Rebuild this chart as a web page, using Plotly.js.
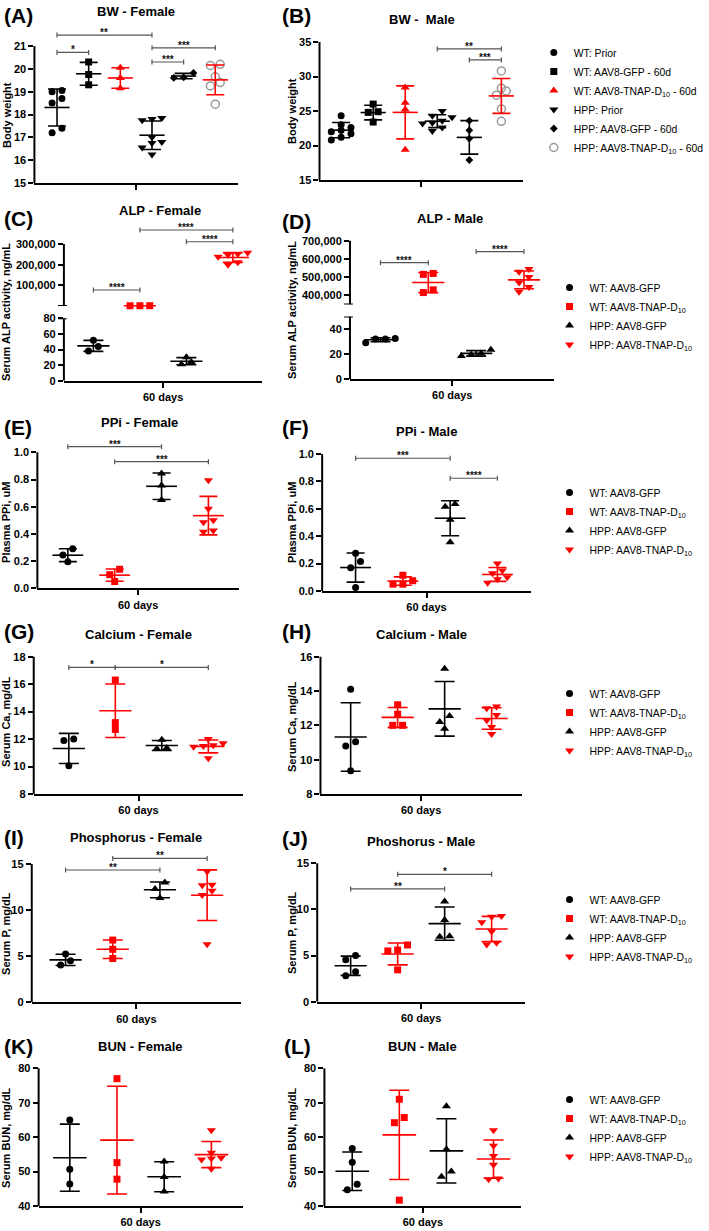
<!DOCTYPE html>
<html><head><meta charset="utf-8">
<script src="https://cdn.plot.ly/plotly-3.0.1.min.js"></script>
<style>html,body{margin:0;padding:0;background:#fff}#chart{width:709px;height:1231px}</style>
</head><body><div id="chart"></div>
<script>
// ---------------- DATA ----------------
const bwGroups = ['WT: Prior','WT: AAV8-GFP - 60d','WT: AAV8-TNAP-D<sub>10</sub> - 60d','HPP: Prior','HPP: AAV8-GFP - 60d','HPP: AAV8-TNAP-D<sub>10</sub> - 60d'];
const dayGroups = ['WT: AAV8-GFP','WT: AAV8-TNAP-D<sub>10</sub>','HPP: AAV8-GFP','HPP: AAV8-TNAP-D<sub>10</sub>'];

const bwFemale = [[19.0,19.05,18.5,18.7,17.2,17.4],[20.3,19.3,19.75],[20.05,19.6,19.15],[17.85,17.8,17.75,17.0,16.8,16.75,16.55,16.25],[19.82,19.63,19.6],[20.15,20.2,19.4,19.65,19.25,18.45]];
const bwMale = [[24.3,23.0,22.6,22.2,22.0,21.7,21.2,20.8],[26.0,24.8,24.9,23.4],[28.4,26.2,25.2,19.4],[25.0,24.3,24.1,23.6,23.3,23.2,22.6,22.1],[23.6,22.2,21.0,17.9],[30.8,28.3,27.9,27.3,25.3,23.5]];
const alpFemale = [[52,44,38],[1200,1500,1300],[30,21,24],[258000,252000,248000,238000,212000,200000]];
const alpMale = [[29,32,32,32.5],[520000,515000,415000,430000],[18.5,20.5,23.5,19.5],[545000,530000,500000,470000,445000,420000]];
const ppiFemale = [[0.29,0.245,0.195],[0.14,0.10,0.05],[0.845,0.755,0.65],[0.795,0.585,0.485,0.5,0.415,0.425]];
const ppiMale = [[0.275,0.215,0.17,0.025],[0.115,0.075,0.05,0.05],[0.615,0.635,0.52,0.355],[0.2,0.15,0.13,0.1,0.085,0.06]];
const caFemale = [[12.0,11.9,10.05],[16.3,13.2,12.7],[11.95,11.3,11.35],[12.0,11.7,11.55,11.5,11.45,10.6]];
const caMale = [[14.1,11.05,10.8,9.35],[13.2,12.65,12.0,12.0],[15.3,12.55,12.2,11.8],[13.1,13.0,12.6,12.3,11.9,11.5]];
const pFemale = [[5.25,4.5,4.05],[6.75,5.75,4.75],[13.0,12.3,11.3],[14.2,12.75,12.7,12.1,11.65,6.3]];
const pMale = [[5.0,4.55,3.25,2.8],[6.15,5.6,5.5,3.45],[10.85,8.85,7.05,7.1],[9.3,9.2,8.6,7.6,6.4,6.2]];
const bunFemale = [[65.0,50.7,46.4],[77.0,52.6,47.8],[52.9,48.4,44.2],[62.0,55.5,54.0,53.8,53.5,50.8]];
const bunMale = [[56.7,52.7,46.3,44.7],[71.0,65.7,64.2,41.7],[69.0,56.5,50.0,48.5],[62.0,57.5,54.5,52.0,48.0,47.8]];

// significance brackets: [from group, to group, level, label]
const bwFemaleSig = [[1,4,21.48,'**'],[1,2,20.72,'*'],[4,6,20.92,'***'],[4,5,20.3,'***']];
const bwMaleSig = [[4,6,33.99,'**'],[5,6,32.4,'***']];
const alpFemaleSig = [[1,2,77400,'****'],[2,4,367700,'****'],[3,4,311000,'****']];
const alpMaleSig = [[1,2,579000,'****'],[3,4,640000,'****']];
const ppiFemaleSig = [[1,3,1.041,'***'],[2,4,0.931,'***']];
const ppiMaleSig = [[1,3,0.969,'***'],[3,4,0.823,'****']];
const caFemaleSig = [[1,2,17.22,'*'],[2,4,17.22,'*']];
const pFemaleSig = [[1,3,14.35,'**'],[2,4,15.6,'**']];
const pMaleSig = [[1,3,12.22,'**'],[2,4,13.8,'*']];

// tick values
const bwFemaleTicks = [15,16,17,18,19,20,21];
const bwMaleTicks = [15,20,25,30,35];
const alpFemaleTicksHi = [100000,200000,300000];
const alpFemaleTicksLo = [0,20,40,60,80];
const alpMaleTicksHi = [400000,500000,600000,700000];
const alpMaleTicksLo = [0,20,40];
const ppiTicks = [0,0.2,0.4,0.6,0.8,1.0];
const caFemaleTicks = [8,10,12,14,16,18];
const caMaleTicks = [8,10,12,14,16];
const pTicks = [0,5,10,15];
const bunTicks = [40,50,60,70,80];

// ---------------- STYLE / LAYOUT ----------------
const W = 709, H = 1231;
const BLACK = '#000000', RED = '#ff0000', GRAY = '#9a9a9a', BR = '#555555';
const FONT = '"Liberation Sans", Arial, Helvetica, sans-serif';

const bwStyles = [
  {symbol:'circle', color:BLACK, size:7, err:BLACK},
  {symbol:'square', color:BLACK, size:7, err:BLACK},
  {symbol:'triangle-up', color:RED, size:8, err:RED},
  {symbol:'triangle-down', color:BLACK, size:8, err:BLACK},
  {symbol:'diamond', color:BLACK, size:6, err:BLACK},
  {symbol:'circle-open', color:GRAY, size:8, err:RED, lw:1.5}
];
const dayStyles = [
  {symbol:'circle', color:BLACK, size:7, err:BLACK},
  {symbol:'square', color:RED, size:7, err:RED},
  {symbol:'triangle-up', color:BLACK, size:8, err:BLACK},
  {symbol:'triangle-down', color:RED, size:8, err:RED}
];

const panels = [
 {letter:'(A)', title:'BW - Female', data:bwFemale, names:bwGroups, styles:bwStyles, sig:bwFemaleSig, legend:null, xlab:'',
  X:{start:35,g1:58,sp:32.2}, mean:{size:18,cap:9},
  parts:[{bottom:183,top:46,domTop:28,min:15,max:21,ticks:bwFemaleTicks,groups:[0,1,2,3,4,5]}],
  L:[2,16], T:[138,11], Y:['Body weight',7,115]},
 {letter:'(B)', title:'BW -  Male', data:bwMale, names:bwGroups, styles:bwStyles, sig:bwMaleSig, legend:'legend', xlab:'',
  X:{start:325,g1:347,sp:32.6}, mean:{size:18,cap:9},
  parts:[{bottom:180,top:42,domTop:38,min:15,max:35,ticks:bwMaleTicks,groups:[0,1,2,3,4,5]}],
  L:[285,16], T:[429,19.5], Y:['Body weight',297,111]},
 {letter:'(C)', title:'ALP - Female', data:alpFemale, names:dayGroups, styles:dayStyles, sig:alpFemaleSig, legend:null, xlab:'60 days',
  X:{start:65,g1:95,sp:47.3}, mean:{size:23,cap:10}, broken:true,
  parts:[{bottom:306,top:244,domTop:226,min:0,max:300000,ticks:alpFemaleTicksHi,fmt:',',groups:[1,3]},
         {bottom:380.7,top:318.3,domTop:318.3,min:0,max:80,ticks:alpFemaleTicksLo,groups:[0,2]}],
  L:[2,219], T:[163,210], Y:['Serum ALP activity, ng/mL',6,312]},
 {letter:'(D)', title:'ALP - Male', data:alpMale, names:dayGroups, styles:dayStyles, sig:alpMaleSig, legend:'legend2', xlab:'60 days',
  X:{start:356,g1:387,sp:48.67}, mean:{size:23,cap:10}, broken:true,
  parts:[{bottom:304.4,top:240.7,domTop:238,min:350000,max:700000,ticks:alpMaleTicksHi,fmt:',',groups:[1,3]},
         {bottom:379,top:316.5,domTop:316.5,min:0,max:50,ticks:alpMaleTicksLo,groups:[0,2]}],
  L:[285,221], T:[458,219], Y:['Serum ALP activity, ng/mL',297,310]},
 {letter:'(E)', title:'PPi - Female', data:ppiFemale, names:dayGroups, styles:dayStyles, sig:ppiFemaleSig, legend:null, xlab:'60 days',
  X:{start:38,g1:69,sp:47.67}, mean:{size:22,cap:9},
  parts:[{bottom:588.3,top:452.3,domTop:440,min:0,max:1,ticks:ppiTicks,fmt:'.1f',groups:[0,1,2,3]}],
  L:[2,427], T:[142,422], Y:['Plasma PPi, uM',6,522]},
 {letter:'(F)', title:'PPi - Male', data:ppiMale, names:dayGroups, styles:dayStyles, sig:ppiMaleSig, legend:'legend3', xlab:'60 days',
  X:{start:327.7,g1:361.7,sp:48.1}, mean:{size:22,cap:9},
  parts:[{bottom:591,top:454,domTop:450,min:0,max:1,ticks:ppiTicks,fmt:'.1f',groups:[0,1,2,3]}],
  L:[285,428], T:[434,432], Y:['Plasma PPi, uM',297,522]},
 {letter:'(G)', title:'Calcium - Female', data:caFemale, names:dayGroups, styles:dayStyles, sig:caFemaleSig, legend:null, xlab:'60 days',
  X:{start:34.3,g1:70,sp:47.3}, mean:{size:23,cap:10},
  parts:[{bottom:794,top:656.7,domTop:652,min:8,max:18,ticks:caFemaleTicks,groups:[0,1,2,3]}],
  L:[2,631], T:[141,634], Y:['Serum Ca, mg/dL',6,721]},
 {letter:'(H)', title:'Calcium - Male', data:caMale, names:dayGroups, styles:dayStyles, sig:[], legend:'legend4', xlab:'60 days',
  X:{start:326,g1:356.7,sp:47.8}, mean:{size:23,cap:10},
  parts:[{bottom:794,top:656.7,domTop:652,min:8,max:16,ticks:caMaleTicks,groups:[0,1,2,3]}],
  L:[285,631], T:[429,634], Y:['Serum Ca, mg/dL',297,726]},
 {letter:'(I)', title:'Phosphorus - Female', data:pFemale, names:dayGroups, styles:dayStyles, sig:pFemaleSig, legend:null, xlab:'60 days',
  X:{start:32.3,g1:66.7,sp:48}, mean:{size:23,cap:10},
  parts:[{bottom:1002.3,top:864,domTop:850,min:0,max:15,ticks:pTicks,groups:[0,1,2,3]}],
  L:[2,837], T:[138,837], Y:['Serum P, mg/dL',6,933]},
 {letter:'(J)', title:'Phoshorus - Male', data:pMale, names:dayGroups, styles:dayStyles, sig:pMaleSig, legend:'legend5', xlab:'60 days',
  X:{start:322.7,g1:356.7,sp:47.8}, mean:{size:23,cap:10},
  parts:[{bottom:1001.7,top:863.3,domTop:858,min:0,max:15,ticks:pTicks,groups:[0,1,2,3]}],
  L:[285,839], T:[428,841], Y:['Serum P, mg/dL',297,932]},
 {letter:'(K)', title:'BUN - Female', data:bunFemale, names:dayGroups, styles:dayStyles, sig:[], legend:null, xlab:'60 days',
  X:{start:39.3,g1:71,sp:48}, mean:{size:24,cap:10},
  parts:[{bottom:1206,top:1068.3,domTop:1064,min:40,max:80,ticks:bunTicks,groups:[0,1,2,3]}],
  L:[2,1046], T:[143,1046], Y:['Serum BUN, mg/dL',6,1137]},
 {letter:'(L)', title:'BUN - Male', data:bunMale, names:dayGroups, styles:dayStyles, sig:[], legend:'legend6', xlab:'60 days',
  X:{start:330,g1:358.3,sp:47.9}, mean:{size:24,cap:10},
  parts:[{bottom:1206,top:1068.3,domTop:1064,min:40,max:80,ticks:bunTicks,groups:[0,1,2,3]}],
  L:[287,1046], T:[430,1046], Y:['Serum BUN, mg/dL',297,1137]}
];

// legend placement: [text left px, first row centre px]
const legendPos = {legend:[570,51], legend2:[586,286], legend3:[586,491], legend4:[586,692], legend5:[586,898], legend6:[586,1098]};

// ---------------- BUILD ----------------
function mean(a){return a.reduce((s,v)=>s+v,0)/a.length;}
function sdev(a){const m=mean(a);return Math.sqrt(a.reduce((s,v)=>s+(v-m)*(v-m),0)/(a.length-1));}
// GraphPad-like horizontal spreading of points whose values are close
function swarm(vals, ppuY, ppuX){
  const idx = vals.map((v,i)=>i).sort((a,b)=>vals[a]-vals[b]);
  const off = new Array(vals.length).fill(0);
  const TH = 6.5, SEP = 10;
  let cl = [], start = null;
  const flush = ()=>{const n=cl.length; cl.forEach((i,k)=>{off[i]=(k-(n-1)/2)*SEP/ppuX;}); cl=[];};
  idx.forEach(i=>{
    if(cl.length && (vals[i]-start)*ppuY > TH) flush();
    if(!cl.length) start = vals[i];
    cl.push(i);
  });
  flush();
  return off;
}

const traces = [], errTraces = [], shapes = [], annotations = [];
const layout = {width:W, height:H, margin:{l:0,r:0,t:0,b:0}, paper_bgcolor:'#ffffff', plot_bgcolor:'rgba(0,0,0,0)',
  font:{family:FONT, color:BLACK}, showlegend:true, hovermode:false};
let axN = 0;
const axName = (n,t)=> n===1 ? t : t+n;
const axKey = (n,t)=> n===1 ? t+'axis' : t+'axis'+n;
const tfont = {family:FONT, size:11, color:BLACK, weight:'bold'};

panels.forEach(p=>{
  const n = p.names.length;
  const r0 = 1 - (p.X.g1 - p.X.start)/p.X.sp;
  const c = (n+1)/2;
  const r1 = 2*c - r0;
  const endPx = p.X.start + (r1-r0)*p.X.sp;
  const axes = [];
  p.parts.forEach((pt,pi)=>{
    axN++;
    const xa = axName(axN,'x'), ya = axName(axN,'y');
    const ppu = (pt.bottom-pt.top)/(pt.max-pt.min);
    const rTop = pt.min + (pt.bottom-pt.domTop)/ppu;
    const last = pi === p.parts.length-1;
    layout[axKey(axN,'x')] = {domain:[p.X.start/W, endPx/W], range:[r0,r1], anchor:ya, visible:last,
      showline:true, linewidth:2, linecolor:BLACK, ticks:'outside', ticklen:5, tickwidth:2, tickcolor:BLACK,
      tickmode:'array', tickvals:[c], ticktext:[p.xlab], tickfont:tfont, showgrid:false, zeroline:false, fixedrange:true};
    layout[axKey(axN,'y')] = {domain:[1-pt.bottom/H, 1-pt.domTop/H], range:[pt.min, rTop], anchor:xa,
      showline:false, ticks:'outside', ticklen:5, tickwidth:2, tickcolor:BLACK, tickmode:'array', tickvals:pt.ticks,
      tickformat:pt.fmt||'', tickfont:tfont, showgrid:false, zeroline:false, fixedrange:true};
    shapes.push({type:'line', xref:'paper', yref:ya, x0:p.X.start/W, x1:p.X.start/W, y0:pt.min, y1:pt.max, line:{color:BLACK,width:2}});
    axes.push({xa, ya, ppu, pt});
  });
  if(p.broken){
    const up = axes[0], lo = axes[1];
    [[up.ya, up.pt.min],[lo.ya, lo.pt.max]].forEach(([ya,v])=>{
      shapes.push({type:'line', xref:'paper', yref:ya, x0:(p.X.start-6)/W, x1:(p.X.start+3)/W, y0:v, y1:v, line:{color:BLACK,width:2}});
    });
  }
  // points (legend order = group order)
  for(let g=0; g<n; g++){
    const ax = axes.find(a=>a.pt.groups.includes(g));
    const vals = p.data[g];
    const off = swarm(vals, ax.ppu, p.X.sp);
    const st = p.styles[g];
    const tr = {type:'scatter', mode:'markers', xaxis:ax.xa, yaxis:ax.ya, name:p.names[g],
      x: vals.map((v,i)=>g+1+off[i]), y: vals, cliponaxis:false, hoverinfo:'skip',
      marker:{symbol:st.symbol, color:st.color, size:st.size, line:{width:st.lw||0, color:st.color}},
      showlegend: !!p.legend};
    if(p.legend) tr.legend = p.legend;
    traces.push(tr);
    errTraces.push({type:'scatter', mode:'markers', xaxis:ax.xa, yaxis:ax.ya, x:[g+1], y:[mean(vals)],
      cliponaxis:false, hoverinfo:'skip', showlegend:false,
      marker:{symbol:'line-ew', size:p.mean.size, color:st.err, line:{color:st.err, width:1.6}},
      error_y:{type:'data', array:[sdev(vals)], visible:true, color:st.err, thickness:1.6, width:p.mean.cap}});
  }
  // significance brackets on the top part
  const top = axes[0];
  p.sig.forEach(([a,b,y,lab])=>{
    const d = 2.5/top.ppu;
    const ln = {color:BR, width:1.2};
    shapes.push({type:'line', xref:top.xa, yref:top.ya, x0:a, x1:b, y0:y, y1:y, line:ln});
    shapes.push({type:'line', xref:top.xa, yref:top.ya, x0:a, x1:a, y0:y-d, y1:y+d, line:ln});
    shapes.push({type:'line', xref:top.xa, yref:top.ya, x0:b, x1:b, y0:y-d, y1:y+d, line:ln});
    annotations.push({xref:top.xa, yref:top.ya, x:(a+b)/2, y:y, text:lab, showarrow:false, xanchor:'center', yanchor:'bottom',
      yshift:-5, font:{family:FONT, size:10, color:'#111111', weight:'bold'}});
  });
  // texts
  annotations.push({xref:'paper', yref:'paper', x:p.L[0]/W, y:1-p.L[1]/H, xanchor:'left', yanchor:'middle', showarrow:false,
    text:p.letter, font:{family:FONT, size:21, color:BLACK, weight:'bold'}});
  annotations.push({xref:'paper', yref:'paper', x:p.T[0]/W, y:1-p.T[1]/H, xanchor:'center', yanchor:'middle', showarrow:false,
    text:p.title, font:{family:FONT, size:13, color:BLACK, weight:'bold'}});
  annotations.push({xref:'paper', yref:'paper', x:p.Y[1]/W, y:1-p.Y[2]/H, xanchor:'center', yanchor:'middle', showarrow:false,
    textangle:-90, text:p.Y[0], font:{family:FONT, size:11, color:BLACK, weight:'bold'}});
});

Object.entries(legendPos).forEach(([k,[tx,ry]])=>{
  layout[k] = {x:(tx-27)/W, y:1-(ry-13)/H, xanchor:'left', yanchor:'top', bgcolor:'rgba(0,0,0,0)', borderwidth:0,
    font:{family:FONT, size:10.4, color:BLACK}, tracegroupgap:0, itemclick:false, itemdoubleclick:false, traceorder:'normal'};
});
layout.shapes = shapes;
layout.annotations = annotations;

Plotly.newPlot('chart', traces.concat(errTraces), layout, {staticPlot:true, displayModeBar:false});
</script>
</body></html>
